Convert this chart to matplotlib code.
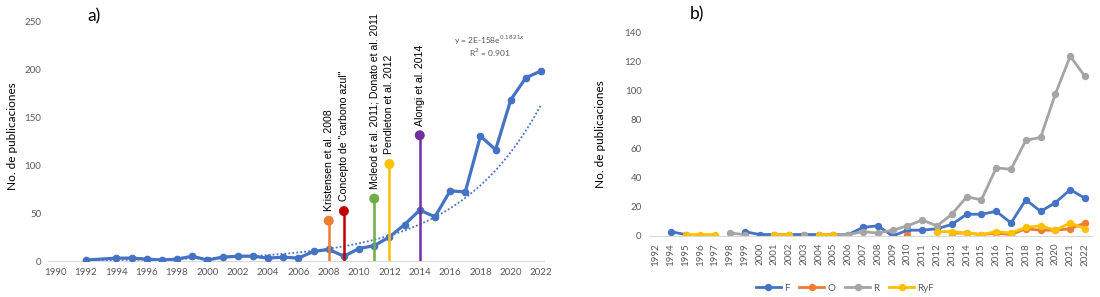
import matplotlib
matplotlib.use("Agg")
import matplotlib.pyplot as plt
import numpy as np

plt.rcParams["font.family"] = ["Lato", "DejaVu Sans"]

# ---------------- panel a data ----------------
years_a = [1992, 1994, 1995, 1996, 1997, 1998, 1999, 2000, 2001, 2002, 2003,
           2004, 2005, 2006, 2007, 2008, 2009, 2010, 2011, 2012, 2013, 2014,
           2015, 2016, 2017, 2018, 2019, 2020, 2021, 2022]
pubs_a = [1, 3, 3, 2, 1, 2, 5, 1, 4, 5, 5, 3, 4, 3, 10, 12, 5, 13, 16, 25,
          38, 53, 46, 73, 72, 130, 116, 168, 191, 198]

stem_years = [2008, 2009, 2011, 2012, 2014]
stem_vals = [42, 52, 65, 101, 131]
stem_labels = ["Kristensen et al. 2008", 'Concepto de "carbono azul"',
               "Mcleod et al. 2011; Donato et al. 2011", "Pendleton et al. 2012",
               "Alongi et al. 2014"]
stem_colors = ["#ED7D31", "#C00000", "#70AD47", "#FFC000", "#7030A0"]

# ---------------- panel b data ----------------
cats_b = ["1992"] + [str(y) for y in range(1994, 2023)]
nan = np.nan
F = [nan, 3, 1, nan, nan, nan, 3, 1, 1, 1, 1, 1, 1, 1, 6, 7, 0, 4, 4, 5,
     8, 15, 15, 17, 9, 25, 17, 23, 32, 26]
O = [nan, nan, nan, nan, nan, nan, nan, nan, nan, nan, nan, nan, nan, nan,
     nan, nan, nan, 1, nan, nan, 2, 2, 1, 2, 1, 5, 4, 4, 5, 9]
R = [nan, nan, nan, nan, nan, 2, 1, nan, nan, nan, 1, nan, 1, 1, 3, 2, 4, 7,
     11, 7, 15, 27, 25, 47, 46, 66, 68, 98, 124, 110]
RyF = [nan, nan, 1, 1, 1, nan, nan, nan, 1, 1, nan, 1, 1, nan, nan, nan,
       nan, nan, nan, 3, 3, 2, 1, 3, 2, 6, 7, 4, 9, 5]

BLUE = "#4472C4"
GREY_TXT = "#595959"

fig = plt.figure(figsize=(11, 2.97), dpi=100)

# ================= panel a =================
ax = fig.add_axes([0.0437, 0.1212, 0.451, 0.808])
ax.plot(years_a, pubs_a, color=BLUE, lw=2.3, marker="o", ms=4.5, zorder=3)

# exponential trend line (Excel style: fit of ln y)
b, ln_a = np.polyfit(years_a, np.log(pubs_a), 1)
xt = np.linspace(years_a[0], years_a[-1], 200)
ax.plot(xt, np.exp(ln_a + b * xt), color=BLUE, lw=1.3, ls=(0, (1, 1.2)), zorder=2)

ax.vlines(stem_years, 0, stem_vals, colors=stem_colors, lw=1.8, zorder=4)
ax.scatter(stem_years, stem_vals, c=stem_colors, s=38, zorder=5)
for yr, v, lab in zip(stem_years, stem_vals, stem_labels):
    ax.annotate(lab, (yr, v), xytext=(0, 7), textcoords="offset points",
                rotation=90, ha="center", va="bottom", fontsize=7.6,
                family=["Liberation Sans", "DejaVu Sans"], annotation_clip=False)

ax.text(2018.6, 230, "y = 2E-158e$^{0.1821x}$", ha="center", va="center",
        fontsize=6, color=GREY_TXT)
ax.text(2018.6, 216.5, "R$^2$ = 0.901", ha="center", va="center",
        fontsize=6, color=GREY_TXT)

ax.set_xlim(1989.5, 2022.2)
ax.set_ylim(0, 250)
ax.set_xticks(range(1990, 2023, 2))
ax.set_yticks(range(0, 251, 50))
ax.set_ylabel("No. de publicaciones", fontsize=8.5)
ax.yaxis.set_label_coords(-0.06, 0.52)
ax.text(1992.5, 255, "a)", fontsize=12.5, ha="center", va="center", clip_on=False)

# ================= panel b =================
bx = fig.add_axes([0.5896, 0.2054, 0.4035, 0.6835])
xb = np.arange(len(cats_b))
for vals, col, name in [(F, BLUE, "F"), (O, "#ED7D31", "O"),
                        (R, "#A5A5A5", "R"), (RyF, "#FFC000", "RyF")]:
    bx.plot(xb, vals, color=col, lw=2.0, marker="o", ms=4.3, label=name)

bx.set_xlim(-0.5, len(cats_b) - 0.5)
bx.set_ylim(0, 140)
bx.set_xticks(xb)
bx.set_xticklabels(cats_b, rotation=90)
bx.set_yticks(range(0, 141, 20))
bx.set_ylabel("No. de publicaciones", fontsize=8.5)
bx.yaxis.set_label_coords(-0.095, 0.5)
fig.text(0.6333, 0.95, "b)", fontsize=12.5, ha="center", va="center")
fig.legend(*bx.get_legend_handles_labels(), loc="center",
           bbox_to_anchor=(0.768, 0.03), ncol=4, frameon=False, fontsize=7,
           handlelength=2.6, columnspacing=1.0, handletextpad=0.3,
           labelcolor=GREY_TXT)

for a in (ax, bx):
    for s in ("top", "right", "left"):
        a.spines[s].set_visible(False)
    a.spines["bottom"].set_color("#D9D9D9")
    a.tick_params(length=0, labelsize=7, labelcolor=GREY_TXT, pad=5)

fig.savefig("out.png", dpi=100)
